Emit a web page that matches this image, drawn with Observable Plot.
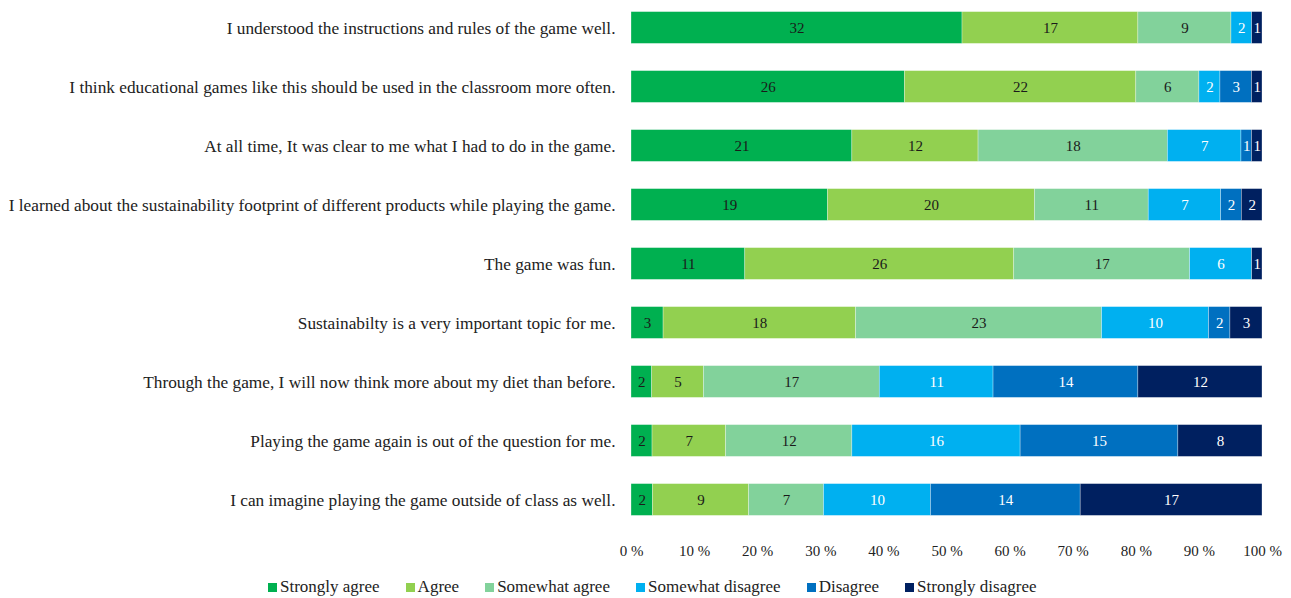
<!DOCTYPE html>
<html>
<head>
<meta charset="utf-8">
<script src="https://cdn.jsdelivr.net/npm/d3@7"></script>
<script src="https://cdn.jsdelivr.net/npm/@observablehq/plot@0.6"></script>
<style>
  html, body { margin: 0; padding: 0; background: #fff; }
  #chart svg { font-family: "Liberation Serif", serif; overflow: visible; display: block; }
  #legend { display: flex; justify-content: flex-start; gap: 0 26px; font-family: "Liberation Serif", serif; font-size: 17px; color: #222; padding-left: 268px; margin-top: 11px; line-height: 20px; }
  #legend .item { display: flex; align-items: center; }
  #legend .sw { width: 9px; height: 9px; margin-right: 3px; display: inline-block; }
</style>
</head>
<body>
<div id="chart"></div>
<div id="legend"></div>
<script>
const questions = [
  "I understood the instructions and rules of the game well.",
  "I think educational games like this should be used in the classroom more often.",
  "At all time, It was clear to me what I had to do in the game.",
  "I learned about the sustainability footprint of different products while playing the game.",
  "The game was fun.",
  "Sustainabilty is a very important topic for me.",
  "Through the game, I will now think more about my diet than before.",
  "Playing the game again is out of the question for me.",
  "I can imagine playing the game outside of class as well."
];
const categories = ["Strongly agree", "Agree", "Somewhat agree", "Somewhat disagree", "Disagree", "Strongly disagree"];
const colors = ["#00B050", "#92D050", "#82D29B", "#00B0F0", "#0070C0", "#002060"];
const labelColors = ["#1a1a1a", "#1a1a1a", "#1a1a1a", "#ffffff", "#ffffff", "#ffffff"];

const stronglyAgree    = [32, 26, 21, 19, 11, 3, 2, 2, 2];
const agree            = [17, 22, 12, 20, 26, 18, 5, 7, 9];
const somewhatAgree    = [9, 6, 18, 11, 17, 23, 17, 12, 7];
const somewhatDisagree = [2, 2, 7, 7, 6, 10, 11, 16, 10];
const disagree         = [0, 3, 1, 2, 0, 2, 14, 15, 14];
const stronglyDisagree = [1, 1, 1, 2, 1, 3, 12, 8, 17];
const series = [stronglyAgree, agree, somewhatAgree, somewhatDisagree, disagree, stronglyDisagree];

const xTicks = [0, 0.1, 0.2, 0.3, 0.4, 0.5, 0.6, 0.7, 0.8, 0.9, 1];

const data = [];
questions.forEach((q, i) => {
  series.forEach((s, j) => {
    if (s[i] > 0) data.push({question: q, category: categories[j], value: s[i], ci: j});
  });
});

const stackOpts = {x: "value", y: "question", z: "category", offset: "normalize"};

const chart = Plot.plot({
  width: 1291,
  height: 566,
  marginLeft: 631,
  marginRight: 29,
  marginTop: 0,
  marginBottom: 35,
  x: {domain: [0, 1], ticks: xTicks, tickFormat: d => Math.round(d * 100) + " %"},
  y: {domain: questions, padding: 0, range: [-2.5, 530]},
  color: {domain: categories, range: colors},
  marks: [
    Plot.gridX(xTicks, {stroke: "#d9d9d9", strokeOpacity: 1, strokeWidth: 1, y1: 0, y2: 531}),
    Plot.barX(data, Plot.stackX({...stackOpts, fill: "category", insetTop: 13.6, insetBottom: 13.6, stroke: "#ffffff", strokeWidth: 0.6, strokeOpacity: 0.5})),
    Plot.text(data, Plot.stackX({...stackOpts, text: d => String(d.value), fill: d => labelColors[d.ci], fontSize: 15})),
    Plot.axisX({ticks: xTicks, tickFormat: d => Math.round(d * 100) + " %", tickSize: 0, tickPadding: 14, fontSize: 15, fill: "#222", label: null}),
    Plot.axisY({tickSize: 0, tickPadding: 16, fontSize: 17.3, fill: "#222", label: null})
  ]
});
document.getElementById("chart").appendChild(chart);

const legend = document.getElementById("legend");
categories.forEach((c, j) => {
  const item = document.createElement("div");
  item.className = "item";
  const sw = document.createElement("span");
  sw.className = "sw";
  sw.style.background = colors[j];
  item.appendChild(sw);
  item.appendChild(document.createTextNode(c));
  legend.appendChild(item);
});
</script>
</body>
</html>
